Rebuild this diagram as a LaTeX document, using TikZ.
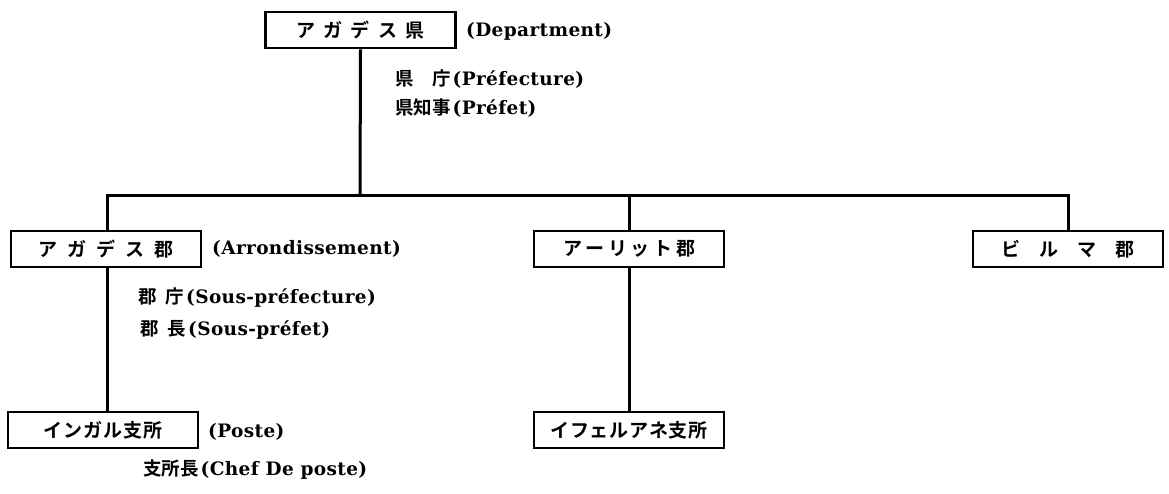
\documentclass[tikz,border=0pt]{standalone}
\usepackage{fontspec}
\setmainfont{DejaVu Serif}
\newfontfamily\jp{Noto Sans CJK JP Bold}
\newfontfamily\lat{DejaVu Serif}[UprightFont={* Bold}, LetterSpace=2]
\newcommand{\g}[1]{\hspace{#1pt}}
\begin{document}
\begin{tikzpicture}[x=1pt,y=-1pt,
  box/.style={draw, line width=2.6pt, minimum width=190pt, minimum height=36pt, inner sep=0pt, font=\fontsize{19}{22}\selectfont\jp},
  lbl/.style={anchor=west, inner sep=0pt, font=\fontsize{18.5}{22}\selectfont},
  conn/.style={line width=3pt}]
\useasboundingbox (0,0) rectangle (1169,493);
% level 1
\node[box] (pref) at (360.5,30) {ア\g{8.5}ガ\g{8.5}デ\g{8.5}ス\g{8.5}県\g{14}};
\node[lbl] (dep) at (466,31) {\lat (Department)};
\node[lbl] (pref1) at (395,79) {\jp 県\g{18.5}庁\g{2}\lat (Préfecture)};
\node[lbl] (pref2) at (395,108) {\jp 県知事\g{2}\lat (Préfet)};
% level 2
\node[box] (b1) at (106,249) {ア\g{10}ガ\g{10}デ\g{10}ス\g{10}郡};
\node[lbl] (arr) at (212,249) {\lat (Arrondissement)};
\node[lbl] (b1a) at (138,298) {\jp 郡\g{9}庁\g{2}\lat (Sous-préfecture)};
\node[lbl] (b1b) at (140,330) {\jp 郡\g{9}長\g{2}\lat (Sous-préfet)};
\node[box] (b2) at (629,249) {ア\g{3.6}ー\g{3.6}リ\g{3.6}ッ\g{3.6}ト\g{3.6}郡};
\node[box] (b3) at (1068,249) {ビ\g{19}ル\g{19}マ\g{19}郡};
% level 3
\node[box] (c1) at (103,430) {イ\g{1}ン\g{1}ガ\g{1}ル\g{1}支\g{1}所};
\node[lbl] (pos) at (208,432) {\lat (Poste)};
\node[lbl] (c1a) at (143,470) {\jp 支所長\g{2}\lat (Chef De poste)};
\node[box] (c2) at (629,430) {イ\g{0.7}フ\g{0.7}ェ\g{0.7}ル\g{0.7}ア\g{0.7}ネ\g{0.7}支\g{0.7}所};
% connectors
\coordinate (j) at (360,195);
\coordinate (v1) at (107,195);
\coordinate (v2) at (629,195);
\coordinate (v3) at (1068,195);
\draw[conn] (pref.south) -- (j);
\draw[conn] (v1 |- b1.north) -- (v1) -- (v3) -- (v3 |- b3.north);
\draw[conn] (v2) -- (v2 |- b2.north);
\draw[conn] (v1 |- b1.south) -- (v1 |- c1.north);
\draw[conn] (b2.south) -- (c2.north);
\end{tikzpicture}
\end{document}
